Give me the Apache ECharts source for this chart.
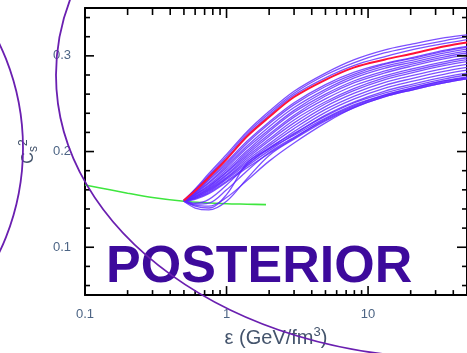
<!DOCTYPE html>
<html>
<head>
<meta charset="utf-8">
<script src="https://cdn.jsdelivr.net/npm/echarts@6/dist/echarts.min.js"></script>
<style>
  html, body { margin: 0; padding: 0; background: #fff; }
  #chart { width: 467px; height: 353px; }
</style>
</head>
<body>
<div id="chart"></div>
<script>
// Energy density grid (GeV/fm^3) shared by the posterior EoS samples
const EPS = [0.5, 0.6, 0.75, 1, 1.4, 2, 3, 5, 8, 13, 20, 35, 50];

// Hadron resonance gas branch (green)
const HRG_EPS = [0.1, 0.15, 0.2, 0.3, 0.5, 0.7, 1, 1.4, 1.9];
const HRG_CS2 = [0.165, 0.160, 0.1565, 0.152, 0.148, 0.1465, 0.1455, 0.145, 0.1445];

// Best-fit curve (red)
const BEST_CS2 = [0.149, 0.159, 0.173, 0.192, 0.216, 0.236, 0.257, 0.275, 0.288, 0.296, 0.302, 0.310, 0.314];

// Posterior samples of c_s^2 on EPS (purple)
const SAMPLES = [
  [0.149, 0.161, 0.177, 0.197, 0.221, 0.242, 0.263, 0.282, 0.296, 0.306, 0.312, 0.319, 0.322],
  [0.149, 0.160, 0.175, 0.195, 0.219, 0.240, 0.261, 0.280, 0.293, 0.303, 0.309, 0.316, 0.320],
  [0.149, 0.160, 0.174, 0.193, 0.217, 0.238, 0.259, 0.277, 0.290, 0.299, 0.306, 0.313, 0.317],
  [0.149, 0.158, 0.171, 0.189, 0.211, 0.231, 0.251, 0.270, 0.283, 0.292, 0.298, 0.306, 0.310],
  [0.149, 0.157, 0.170, 0.187, 0.209, 0.229, 0.249, 0.268, 0.281, 0.291, 0.297, 0.305, 0.309],
  [0.149, 0.157, 0.168, 0.185, 0.206, 0.226, 0.246, 0.265, 0.279, 0.289, 0.295, 0.303, 0.307],
  [0.148, 0.156, 0.167, 0.183, 0.204, 0.223, 0.243, 0.263, 0.277, 0.287, 0.293, 0.301, 0.305],
  [0.149, 0.155, 0.165, 0.181, 0.201, 0.221, 0.241, 0.260, 0.274, 0.284, 0.291, 0.299, 0.303],
  [0.148, 0.155, 0.164, 0.179, 0.199, 0.218, 0.238, 0.258, 0.272, 0.282, 0.289, 0.297, 0.301],
  [0.148, 0.154, 0.163, 0.178, 0.197, 0.216, 0.236, 0.255, 0.269, 0.279, 0.286, 0.294, 0.298],
  [0.148, 0.153, 0.162, 0.176, 0.195, 0.213, 0.233, 0.252, 0.266, 0.277, 0.284, 0.292, 0.296],
  [0.148, 0.153, 0.161, 0.175, 0.193, 0.211, 0.230, 0.250, 0.264, 0.275, 0.282, 0.290, 0.294],
  [0.148, 0.152, 0.160, 0.173, 0.191, 0.208, 0.227, 0.247, 0.261, 0.272, 0.279, 0.287, 0.291],
  [0.148, 0.152, 0.159, 0.172, 0.189, 0.206, 0.224, 0.244, 0.258, 0.269, 0.276, 0.284, 0.288],
  [0.148, 0.151, 0.158, 0.171, 0.187, 0.203, 0.221, 0.241, 0.255, 0.266, 0.273, 0.281, 0.285],
  [0.148, 0.151, 0.157, 0.169, 0.185, 0.201, 0.218, 0.238, 0.252, 0.263, 0.270, 0.278, 0.282],
  [0.148, 0.150, 0.156, 0.168, 0.183, 0.198, 0.214, 0.234, 0.248, 0.259, 0.266, 0.274, 0.278],
  [0.149, 0.143, 0.141, 0.155, 0.188, 0.203, 0.217, 0.235, 0.249, 0.259, 0.266, 0.274, 0.277],
  [0.149, 0.145, 0.146, 0.160, 0.180, 0.199, 0.215, 0.233, 0.247, 0.258, 0.265, 0.273, 0.277],
  [0.148, 0.141, 0.139, 0.148, 0.172, 0.196, 0.213, 0.232, 0.246, 0.257, 0.264, 0.272, 0.276],
  [0.149, 0.146, 0.150, 0.165, 0.186, 0.204, 0.219, 0.237, 0.251, 0.261, 0.268, 0.276, 0.280],
  [0.148, 0.144, 0.143, 0.152, 0.170, 0.190, 0.209, 0.230, 0.246, 0.257, 0.264, 0.272, 0.276]
];

// Axis ticks
const X_MAJOR = [0.1, 1, 10];
const X_MINOR = [0.2, 0.3, 0.4, 0.5, 0.6, 0.7, 0.8, 0.9, 2, 3, 4, 5, 6, 7, 8, 9, 20, 30, 40];
const Y_MAJOR = [0.1, 0.2, 0.3];
const Y_MINOR = [0.06, 0.08, 0.12, 0.14, 0.16, 0.18, 0.22, 0.24, 0.26, 0.28, 0.32, 0.34];

const X_RANGE = [0.1, 50];
const Y_RANGE = [0.05, 0.35];

const FONT = '"Liberation Sans", Arial, Helvetica, sans-serif';
const LABEL_COLOR = '#4d6585';
const TITLE_COLOR = '#44546c';

const pairs = (xs, ys) => xs.map((x, i) => [x, ys[i]]);
const frameLine = () => ({ show: true, onZero: false, lineStyle: { color: '#000', width: 2 } });

const chart = echarts.init(document.getElementById('chart'), null, { renderer: 'canvas' });

const series = [{
  type: 'line', name: 'HRG', data: pairs(HRG_EPS, HRG_CS2), smooth: 0.3,
  showSymbol: false, silent: true, lineStyle: { color: '#3ee63e', width: 1.6 }, z: 2
}];
SAMPLES.forEach((ys, i) => {
  series.push({
    type: 'line', name: 'sample' + i, data: pairs(EPS, ys), smooth: 0.35,
    showSymbol: false, silent: true, lineStyle: { color: 'rgba(92,36,255,0.8)', width: 1.3 }, z: 3
  });
});
series.push({
  type: 'line', name: 'best', data: pairs(EPS, BEST_CS2), smooth: 0.35,
  showSymbol: false, silent: true, lineStyle: { color: '#ff1238', width: 2 }, z: 4
});

chart.setOption({
  animation: false,
  backgroundColor: '#fff',
  grid: { left: 85, top: 8, width: 391, height: 288 },
  xAxis: [
    {
      type: 'log', logBase: 10, min: X_RANGE[0], max: X_RANGE[1], position: 'bottom',
      axisLine: frameLine(), axisTick: { show: false },
      axisLabel: {
        show: true, customValues: X_MAJOR, margin: 13, fontSize: 13, fontFamily: FONT, color: LABEL_COLOR,
        formatter: v => String(Number((+v).toPrecision(3)))
      },
      splitLine: { show: false },
      name: '{n|ε (GeV/fm}{sup|3}{n|)}', nameLocation: 'middle', nameGap: 30,
      nameTextStyle: {
        rich: {
          n: { fontSize: 20, fontFamily: FONT, color: TITLE_COLOR, lineHeight: 24 },
          sup: { fontSize: 13, fontFamily: FONT, color: TITLE_COLOR, lineHeight: 12, verticalAlign: 'top' }
        }
      }
    },
    {
      type: 'log', logBase: 10, min: X_RANGE[0], max: X_RANGE[1], position: 'top',
      axisLine: frameLine(), axisTick: { show: false }, axisLabel: { show: false }, splitLine: { show: false }
    }
  ],
  yAxis: [
    {
      type: 'value', min: Y_RANGE[0], max: Y_RANGE[1], position: 'left',
      axisLine: frameLine(), axisTick: { show: false },
      axisLabel: {
        show: true, customValues: Y_MAJOR, margin: 14, fontSize: 13, fontFamily: FONT, color: LABEL_COLOR,
        formatter: v => (+v).toFixed(1)
      },
      splitLine: { show: false },
      name: '{c|C}{s|s}{p|2}', nameLocation: 'middle', nameRotate: 90, nameGap: 45,
      nameTextStyle: {
        rich: {
          c: { fontSize: 16, fontFamily: FONT, color: TITLE_COLOR, lineHeight: 22 },
          s: { fontSize: 12, fontFamily: FONT, color: TITLE_COLOR, lineHeight: 12, verticalAlign: 'bottom' },
          p: { fontSize: 12, fontFamily: FONT, color: TITLE_COLOR, lineHeight: 10, verticalAlign: 'top' }
        }
      }
    },
    {
      type: 'value', min: Y_RANGE[0], max: Y_RANGE[1], position: 'right',
      axisLine: frameLine(), axisTick: { show: false }, axisLabel: { show: false }, splitLine: { show: false }
    }
  ],
  series
});

// Inward frame ticks, placed through the axes' own scales
const toX = v => chart.convertToPixel({ xAxisIndex: 0 }, v);
const toY = v => chart.convertToPixel({ yAxisIndex: 0 }, v);
const frameL = toX(X_RANGE[0]);
const frameR = toX(X_RANGE[1]);
const frameB = toY(Y_RANGE[0]);
const frameT = toY(Y_RANGE[1]);
const tickStyle = { stroke: '#000', lineWidth: 1.6 };
const seg = (x1, y1, x2, y2) => ({ type: 'line', silent: true, z: 40, shape: { x1, y1, x2, y2 }, style: tickStyle });

const frameTicks = [];
X_MAJOR.forEach(v => { const x = toX(v); frameTicks.push(seg(x, frameB, x, frameB - 9), seg(x, frameT, x, frameT + 10)); });
X_MINOR.forEach(v => { const x = toX(v); frameTicks.push(seg(x, frameB, x, frameB - 5), seg(x, frameT, x, frameT + 7)); });
Y_MAJOR.forEach(v => { const y = toY(v); frameTicks.push(seg(frameL, y, frameL + 9, y), seg(frameR, y, frameR - 10, y)); });
Y_MINOR.forEach(v => { const y = toY(v); frameTicks.push(seg(frameL, y, frameL + 5, y), seg(frameR, y, frameR - 5, y)); });

const decor = [
  {
    type: 'text', x: 106, y: 268, z: 50, silent: true,
    style: {
      text: 'POSTERIOR', fill: '#3d0a9c', fontSize: 52, fontWeight: 'bold',
      fontFamily: FONT, verticalAlign: 'middle', textAlign: 'left'
    }
  },
  {
    type: 'ellipse', z: 60, silent: true,
    shape: { cx: 450, cy: 75, rx: 394, ry: 283 },
    style: { fill: 'none', stroke: '#6a1fb0', lineWidth: 1.8 }
  },
  {
    type: 'circle', z: 60, silent: true,
    shape: { cx: -219, cy: 148, r: 242 },
    style: { fill: 'none', stroke: '#6a1fb0', lineWidth: 1.8 }
  }
];

chart.setOption({ graphic: decor.concat(frameTicks) });
</script>
</body>
</html>
